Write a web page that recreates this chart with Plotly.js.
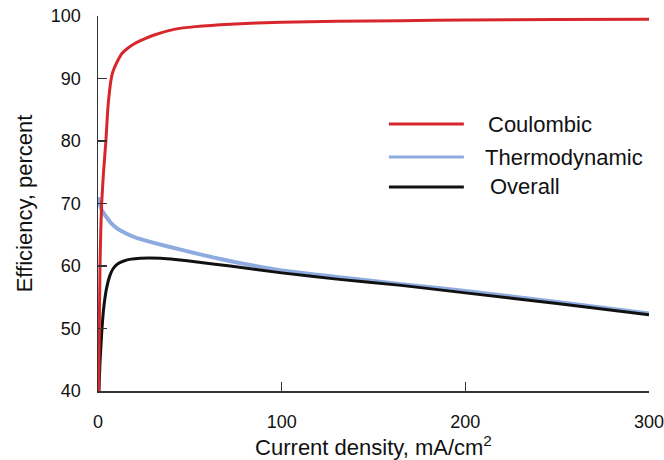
<!DOCTYPE html>
<html>
<head>
<meta charset="utf-8">
<script src="https://cdn.plot.ly/plotly-3.0.1.min.js"></script>
<style>html,body{margin:0;padding:0;background:#fff;}#chart{width:664px;height:460px;}</style>
</head>
<body>
<div id="chart"></div>
<script>
// Series names
const seriesNames = ["Coulombic", "Thermodynamic", "Overall"];

// Coulombic efficiency
const coulombicX = [0.4, 0.7, 1.1, 1.5, 2, 3, 4.3, 5.3, 6.2, 7.1, 8, 9.2, 11, 13, 16, 20, 25, 31, 42, 53, 72, 100, 130, 165, 200, 250, 300];
const coulombicY = [40, 50, 60, 65.5, 70, 75, 80, 85, 87.8, 89.8, 91.0, 91.9, 93.0, 94.0, 94.8, 95.6, 96.3, 97.0, 97.9, 98.3, 98.7, 99.0, 99.15, 99.25, 99.35, 99.45, 99.5];

// Thermodynamic efficiency
const thermoX = [0.2, 1, 2, 3, 4.7, 7, 10, 14, 20, 28, 37, 55, 75, 100, 130, 165, 200, 250, 300];
const thermoY = [71, 69.8, 69, 68.5, 67.8, 66.9, 66.1, 65.4, 64.6, 63.9, 63.2, 61.9, 60.6, 59.3, 58.25, 57.1, 56.0, 54.25, 52.4];

// Overall efficiency
const overallX = [0.5, 1, 2, 3, 4.7, 6.5, 8.3, 11, 14, 18, 23, 28, 34, 42, 55, 72, 100, 130, 165, 200, 250, 300];
const overallY = [40, 44, 49.2, 53, 56.5, 58.5, 59.6, 60.4, 60.8, 61.1, 61.25, 61.3, 61.25, 61.05, 60.6, 60.0, 58.9, 57.9, 56.9, 55.7, 54.0, 52.2];

// Axis ticks
const xTicks = [0, 100, 200, 300];
const yTicks = [40, 50, 60, 70, 80, 90, 100];

const colors = {Coulombic: "#d8272c", Thermodynamic: "#8eabe0", Overall: "#111111"};
const widths = {Coulombic: 3, Thermodynamic: 4, Overall: 3};

const traces = [
  {x: thermoX, y: thermoY, name: seriesNames[1]},
  {x: overallX, y: overallY, name: seriesNames[2]},
  {x: coulombicX, y: coulombicY, name: seriesNames[0]}
].map(t => ({
  x: t.x, y: t.y, name: t.name, type: "scatter", mode: "lines",
  line: {color: colors[t.name], width: widths[t.name], shape: "spline", smoothing: 0.5},
  showlegend: false, hoverinfo: "skip"
}));

// Manual legend (long line samples)
const legendRows = [
  {name: seriesNames[0], y: 0.712, tx: 0.7034},
  {name: seriesNames[1], y: 0.624, tx: 0.698},
  {name: seriesNames[2], y: 0.544, tx: 0.707}
];
const shapes = legendRows.map(r => ({
  type: "line", xref: "paper", yref: "paper", x0: 0.528, x1: 0.664, y0: r.y, y1: r.y,
  line: {color: colors[r.name], width: 3}
}));
const annotations = legendRows.map(r => ({
  xref: "paper", yref: "paper", x: r.tx, y: r.y, xanchor: "left", yanchor: "middle",
  text: r.name, showarrow: false, font: {family: "Liberation Sans, Arial, sans-serif", size: 22, color: "#111"}
}));

const layout = {
  width: 664, height: 460,
  margin: {l: 98, r: 15, t: 16, b: 69},
  paper_bgcolor: "#fff", plot_bgcolor: "#fff",
  font: {family: "Liberation Sans, Arial, sans-serif", color: "#111"},
  xaxis: {
    range: [0, 300], tickvals: xTicks, ticks: "inside", ticklen: 9, tickwidth: 1.3, tickcolor: "#333",
    showline: true, linecolor: "#333", linewidth: 1.5, showgrid: false, zeroline: false,
    tickfont: {size: 18, color: "#111"}, ticklabelstandoff: 14, ticklabeloverflow: "allow",
    title: {text: "Current density, mA/cm<sup>2</sup>", font: {size: 22, color: "#111"}, standoff: 6},
    automargin: false
  },
  yaxis: {
    range: [40, 100], tickvals: yTicks, ticks: "inside", ticklen: 9, tickwidth: 1.3, tickcolor: "#333",
    showline: true, linecolor: "#333", linewidth: 1.5, showgrid: false, zeroline: false,
    tickfont: {size: 18, color: "#111"}, ticklabelstandoff: 12, ticklabeloverflow: "allow",
    title: {text: "Efficiency, percent", font: {size: 22, color: "#111"}, standoff: 12},
    automargin: false
  },
  shapes: shapes,
  annotations: annotations,
  showlegend: false
};

Plotly.newPlot("chart", traces, layout, {displayModeBar: false, staticPlot: true});
</script>
</body>
</html>
